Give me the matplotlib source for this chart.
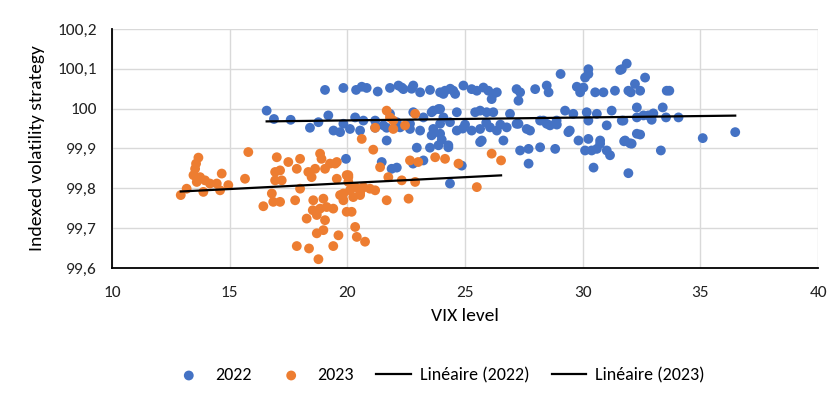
import numpy as np
import matplotlib
matplotlib.use("Agg")
import matplotlib.pyplot as plt
from matplotlib.ticker import FuncFormatter, MultipleLocator

plt.rcParams['font.family'] = ['Carlito', 'Liberation Sans', 'DejaVu Sans']

# données : (VIX, indice)
pts_2022 = [
    (16.57, 99.995), (16.88, 99.974), (17.59, 99.972), (18.41, 99.952), (18.77, 99.966),
    (19.19, 99.983), (19.41, 99.945), (19.69, 99.941), (20.11, 99.949), (19.05, 100.047),
    (19.83, 100.052), (20.37, 100.047), (20.61, 100.055), (20.82, 100.052), (21.29, 100.043),
    (21.81, 100.052), (22.17, 100.058), (22.38, 100.049), (22.80, 100.058), (23.09, 100.041),
    (23.51, 100.047), (23.94, 100.041), (24.15, 100.045), (20.33, 99.978), (20.68, 99.970),
    (21.18, 99.970), (21.53, 99.958), (21.81, 99.987), (22.10, 99.966), (22.80, 99.991),
    (23.23, 99.978), (23.58, 99.991), (23.87, 99.999), (24.08, 99.978), (20.54, 99.945),
    (21.18, 99.952), (21.67, 99.952), (22.24, 99.953), (22.66, 99.949), (23.09, 99.945),
    (23.65, 99.949), (23.58, 99.933), (23.94, 99.937), (24.01, 99.922), (21.67, 99.920),
    (22.95, 99.902), (23.51, 99.902), (23.87, 99.908), (19.94, 99.874), (21.46, 99.866),
    (21.88, 99.849), (22.10, 99.852), (22.79, 99.862), (24.08, 100.037), (24.50, 100.045),
    (24.58, 100.037), (24.93, 100.058), (25.28, 100.049), (25.50, 100.045), (25.78, 100.053),
    (25.99, 100.045), (26.20, 100.037), (26.35, 100.041), (26.13, 100.024), (27.19, 100.049),
    (27.34, 100.041), (27.27, 100.020), (27.98, 100.049), (28.47, 100.058), (28.55, 100.041),
    (29.06, 100.087), (29.75, 100.055), (29.89, 100.041), (30.03, 100.053), (30.10, 100.078),
    (30.24, 100.099), (30.53, 100.041), (30.88, 100.041), (31.37, 100.045), (31.66, 100.099),
    (31.87, 100.113), (31.94, 100.045), (32.22, 100.062), (23.94, 99.999), (24.65, 99.991),
    (25.43, 99.991), (25.64, 99.995), (25.92, 99.991), (26.20, 99.991), (26.91, 99.987),
    (23.94, 99.962), (24.36, 99.966), (24.65, 99.945), (25.28, 99.945), (25.64, 99.949),
    (26.06, 99.953), (26.35, 99.945), (26.77, 99.953), (27.19, 99.962), (27.62, 99.949),
    (28.19, 99.970), (28.47, 99.962), (28.89, 99.970), (29.25, 99.995), (29.60, 99.987),
    (30.17, 99.991), (30.60, 99.987), (31.23, 99.995), (31.66, 99.970), (32.30, 99.978),
    (32.30, 99.937), (24.29, 99.908), (25.71, 99.920), (26.63, 99.920), (27.34, 99.895),
    (27.70, 99.899), (28.19, 99.903), (28.83, 99.899), (29.39, 99.941), (29.82, 99.920),
    (30.24, 99.924), (30.74, 99.920), (30.10, 99.895), (30.60, 99.899), (31.02, 99.895),
    (31.16, 99.883), (31.80, 99.920), (32.08, 99.912), (27.70, 99.862), (30.46, 99.852),
    (31.94, 99.838), (32.65, 100.078), (32.04, 100.041), (32.44, 100.045), (33.57, 100.045),
    (33.68, 100.045), (32.30, 100.003), (33.40, 100.003), (32.58, 99.983), (32.79, 99.983),
    (33.00, 99.988), (32.93, 99.972), (33.54, 99.978), (34.07, 99.978), (31.73, 99.970),
    (32.44, 99.935), (31.76, 99.918), (32.01, 99.913), (33.32, 99.895), (35.10, 99.926),
    (36.48, 99.941), (31.59, 100.097), (31.02, 99.958), (30.24, 99.970), (30.74, 99.912),
    (30.38, 99.895), (24.86, 99.857), (23.23, 99.870), (24.36, 99.812), (24.29, 99.903),
    (22.31, 100.053), (22.73, 100.050), (24.37, 100.050), (19.83, 99.962), (22.66, 99.962),
    (23.65, 99.995), (28.33, 99.970), (28.61, 99.958), (28.90, 99.960), (29.45, 99.945),
    (27.76, 99.945), (25.64, 99.916), (27.27, 99.962), (30.24, 100.087), (25.00, 99.960),
    (24.90, 99.950), (25.90, 99.965), (26.50, 99.960),
]

pts_2023 = [
    (15.79, 99.891), (13.67, 99.877), (13.57, 99.862), (13.53, 99.849), (13.46, 99.833),
    (13.74, 99.828), (13.95, 99.820), (13.60, 99.816), (14.16, 99.812), (14.45, 99.812),
    (13.88, 99.791), (14.66, 99.837), (14.94, 99.808), (14.59, 99.795), (15.65, 99.824),
    (13.17, 99.799), (12.92, 99.783), (17.00, 99.878), (17.49, 99.866), (17.99, 99.874),
    (17.14, 99.845), (16.93, 99.841), (17.85, 99.849), (18.34, 99.841), (18.63, 99.849),
    (18.84, 99.887), (19.05, 99.849), (18.48, 99.828), (19.48, 99.862), (19.55, 99.824),
    (16.93, 99.820), (17.21, 99.820), (17.99, 99.799), (17.78, 99.770), (16.79, 99.787),
    (16.85, 99.766), (17.14, 99.766), (16.43, 99.755), (18.55, 99.770), (18.98, 99.774),
    (19.12, 99.753), (18.70, 99.741), (19.40, 99.749), (19.83, 99.787), (20.11, 99.795),
    (20.25, 99.778), (19.97, 99.741), (20.18, 99.741), (18.27, 99.724), (18.70, 99.733),
    (19.05, 99.720), (18.70, 99.687), (18.98, 99.695), (19.62, 99.682), (20.33, 99.703),
    (17.85, 99.655), (18.37, 99.649), (19.40, 99.655), (18.77, 99.622), (20.40, 99.678),
    (20.75, 99.666), (20.04, 99.833), (20.54, 99.787), (20.68, 99.803), (18.53, 99.745),
    (18.84, 99.749), (21.67, 99.995), (22.88, 99.987), (21.81, 99.978), (21.95, 99.970),
    (21.95, 99.949), (21.18, 99.952), (22.45, 99.958), (20.61, 99.924), (21.10, 99.897),
    (22.66, 99.870), (23.01, 99.866), (21.39, 99.853), (23.73, 99.878), (24.15, 99.874),
    (20.04, 99.828), (21.74, 99.828), (22.31, 99.820), (22.88, 99.816), (24.72, 99.862),
    (26.13, 99.887), (26.53, 99.870), (25.50, 99.803), (21.67, 99.770), (22.60, 99.774),
    (19.97, 99.833), (20.04, 99.816), (20.33, 99.803), (20.61, 99.799), (20.96, 99.799),
    (21.18, 99.795), (19.69, 99.783), (19.83, 99.770), (20.54, 99.783), (18.90, 99.874),
    (19.26, 99.862), (19.55, 99.866),
]

# courbes de tendance linéaires (extrémités)
trend_2022_x = [16.57, 36.48]
trend_2022_y = [99.968, 99.9825]
trend_2023_x = [12.92, 26.53]
trend_2023_y = [99.792, 99.8325]

x22 = np.array([p[0] for p in pts_2022])
y22 = np.array([p[1] for p in pts_2022])
x23 = np.array([p[0] for p in pts_2023])
y23 = np.array([p[1] for p in pts_2023])

blue = "#4472C4"
orange = "#ED7D31"

fig = plt.figure(figsize=(8.38, 3.97), dpi=100)
ax = fig.add_axes([0.1337, 0.325, 0.8425, 0.602])

ax.scatter(x22, y22, s=50, color=blue, edgecolors="none", label="2022", zorder=3)
ax.scatter(x23, y23, s=50, color=orange, edgecolors="none", label="2023", zorder=3)
ax.plot(trend_2022_x, trend_2022_y, color="black", lw=1.6, label="Linéaire (2022)", zorder=4)
ax.plot(trend_2023_x, trend_2023_y, color="black", lw=1.6, label="Linéaire (2023)", zorder=4)

ax.set_xlim(10, 40)
ax.set_ylim(99.6, 100.2)
ax.xaxis.set_major_locator(MultipleLocator(5))
ax.yaxis.set_major_locator(MultipleLocator(0.1))
ax.yaxis.set_major_formatter(FuncFormatter(lambda v, p: f"{round(v, 1):g}".replace(".", ",")))

ax.grid(True, color="#d9d9d9", lw=1)
ax.set_axisbelow(True)
for s in ["top", "right"]:
    ax.spines[s].set_visible(False)
for s in ["left", "bottom"]:
    ax.spines[s].set_color("black")
    ax.spines[s].set_linewidth(1.3)
ax.tick_params(length=0, labelsize=12.5, colors="#222222")
ax.tick_params(axis="x", pad=13)
ax.tick_params(axis="y", pad=11)

ax.set_xlabel("VIX level", fontsize=14, labelpad=6)
ax.set_ylabel("Indexed volatility strategy", fontsize=14, labelpad=9)

fig.legend(loc="center", bbox_to_anchor=(0.523, 0.055), ncol=4, frameon=False,
           fontsize=13, handlelength=1.9, columnspacing=1.25, handletextpad=0.5)

fig.savefig("out.png", dpi=100)
